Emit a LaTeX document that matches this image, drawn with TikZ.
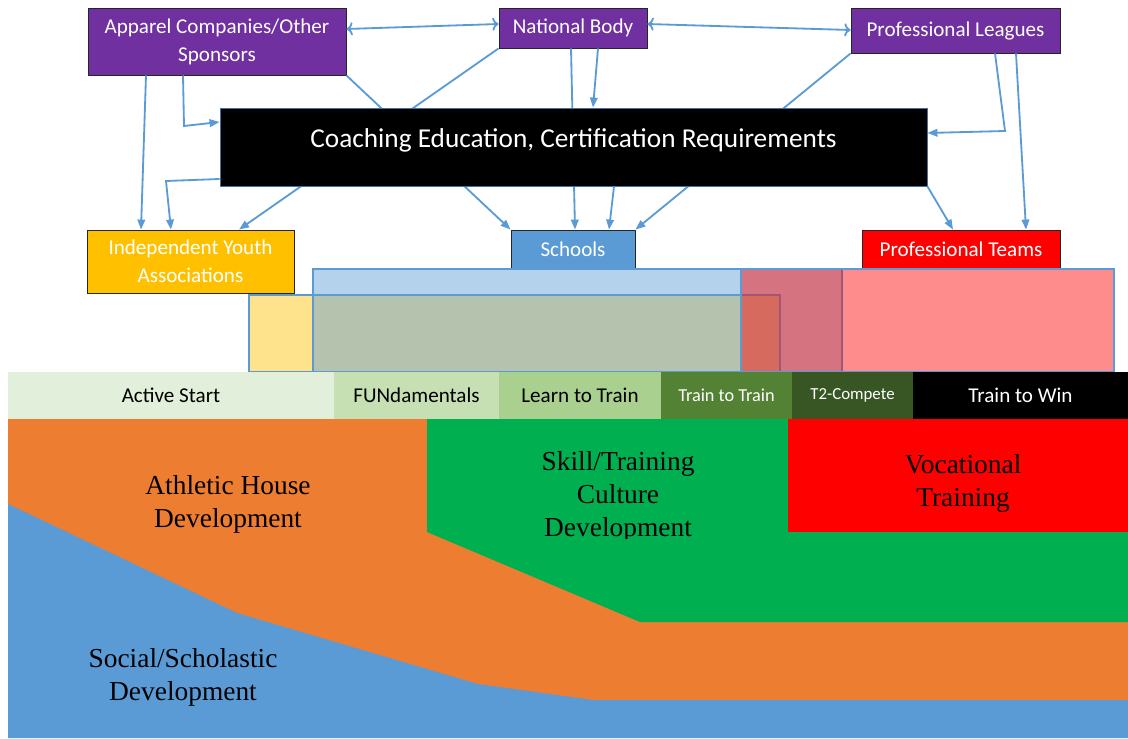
\documentclass[tikz,border=0pt]{standalone}
\usepackage{fontspec}
\setmainfont{Liberation Serif}
\newfontfamily\calibri{Carlito}
\usetikzlibrary{arrows.meta}

\definecolor{orgpurple}{HTML}{7030A0}
\definecolor{linkblue}{HTML}{5B9BD5}
\definecolor{youthgold}{HTML}{FFC000}
\definecolor{edgeblue}{HTML}{41719C}
\definecolor{startgreen}{HTML}{E2EFDA}
\definecolor{fungreen}{HTML}{C6E0B4}
\definecolor{learngreen}{HTML}{A9D08E}
\definecolor{ttgreen}{HTML}{548235}
\definecolor{competegreen}{HTML}{375623}
\definecolor{athleticorange}{HTML}{ED7D31}
\definecolor{skillgreen}{HTML}{00B050}

\begin{document}
\begin{tikzpicture}[
x=0.25mm, y=-0.25mm,
orgbox/.style={rectangle, draw=black!85, line width=0.6pt, text=white, inner sep=0pt, align=center, font=\calibri\fontsize{15}{20}\selectfont},
link/.style={draw=linkblue, line width=1.3pt, -{Triangle[length=2.5mm,width=1.9mm]}},
zone/.style={draw=linkblue, line width=1.2pt, fill opacity=0.45},
stage/.style={rectangle, inner sep=0pt, minimum height=11.75mm, font=\calibri\fontsize{15}{18}\selectfont},
devtext/.style={align=center, font=\fontsize{19.5}{23.5}\selectfont}
]
    \useasboundingbox (0,0) rectangle (1128,738);

    % governing bodies
    \node[orgbox, fill=orgpurple, minimum width=64.5mm, minimum height=16.75mm] (apparel) at (217,41.5) {Apparel Companies/Other\\Sponsors};
    \node[orgbox, fill=orgpurple, minimum width=37mm, minimum height=10mm] (national) at (573,28) {National Body};
    \node[orgbox, fill=orgpurple, minimum width=52.25mm, minimum height=11.25mm] (leagues) at (955.5,30.5) {Professional Leagues};

    % delivery
    \node[orgbox, fill=youthgold, minimum width=51.75mm, minimum height=15.75mm] (youth) at (190.5,261.5) {Independent Youth\\Associations};
    \node[orgbox, fill=linkblue, minimum width=31mm, minimum height=9.75mm] (schools) at (573,249.5) {Schools};
    \node[orgbox, fill=red, minimum width=49.5mm, minimum height=9.75mm] (teams) at (961,249.5) {Professional Teams};

    % these run behind the coaching box
    \draw[link] (apparel.south east) -- (schools.north west);
    \draw[link] (national.south west) -- (youth.north -| 239,0);
    \draw[link] (national.south -| 571,0) -- (schools.north -| 575,0);
    \draw[link] (leagues.south west) -- (schools.north east);

    \node[rectangle, fill=black, draw=edgeblue, line width=0.6pt, inner sep=0pt, minimum width=176.75mm, text height=9.75mm, text depth=9.75mm, text=white, font=\calibri\fontsize{19.4}{22}\selectfont] (coaching) at (573.5,147) {Coaching Education, Certification Requirements};

    \draw[link,<->] (apparel.east |- 0,29) -- (national.west |- 0,24);
    \draw[link,<->] (national.east |- 0,24) -- (leagues.west |- 0,30);
    \draw[link] (apparel.south -| 146,0) -- (youth.north -| 141,0);
    \draw[link] (apparel.south -| 183,0) -- (184,126) -- (coaching.west |- 0,122);
    \draw[link] (coaching.west |- 0,179) -- (166,181) -- (youth.north -| 171,0);
    \draw[link] (national.south -| 598,0) -- (coaching.north -| 593,0);
    \draw[link] (coaching.south -| 614,0) -- (schools.north -| 609,0);
    \draw[link] (leagues.south -| 995,0) -- (1005,131) -- (coaching.east |- 0,133);
    \draw[link] (leagues.south -| 1016,0) -- (teams.north -| 1026,0);
    \draw[link] (coaching.south east) -- (teams.north -| 953,0);

    % overlapping spans
    \draw[zone, fill=youthgold] (249,295) rectangle (780,372);
    \draw[zone, fill=linkblue] (313,269) rectangle (842,372);
    \draw[zone, fill=red] (741,269) rectangle (1114,372);

    % LTAD stages
    \node[stage, fill=startgreen, minimum width=81.5mm] (active) at (171,395.5) {Active Start};
    \node[stage, fill=fungreen, minimum width=41.25mm] (fun) at (416.5,395.5) {FUNdamentals};
    \node[stage, fill=learngreen, minimum width=40.5mm] (learn) at (580,395.5) {Learn to Train};
    \node[stage, fill=ttgreen, minimum width=32.75mm, text=white, font=\calibri\fontsize{13}{16}\selectfont] (traintrain) at (726.5,395.5) {Train to Train};
    \node[stage, fill=competegreen, minimum width=30.25mm, text=white, font=\calibri\fontsize{12}{16}\selectfont] (compete) at (852.5,395.5) {\raisebox{2pt}{T2-Compete}};
    \node[stage, fill=black, minimum width=53.75mm, text=white] (win) at (1020.5,395.5) {Train to Win};

    % development bands
    \fill[athleticorange] (8,419) rectangle (1128,738);
    \fill[linkblue] (8,504) -- (237,613) -- (478,684) -- (593,700) -- (1128,700) -- (1128,738) -- (8,738) -- cycle;
    \fill[skillgreen] (427,419) -- (1128,419) -- (1128,622) -- (640,622) -- (427,532) -- cycle;
    \fill[red] (788,419) rectangle (1128,532);

    \node[devtext] (athletic) at (228,504) {Athletic House\\Development};
    \node[devtext] (social) at (183,677) {Social/Scholastic\\Development};
    \begin{scope}
        \clip (427,419) rectangle (788,538);
        \node[devtext] (skill) at (618,497) {Skill/Training\\Culture\\Development};
    \end{scope}
    \node[devtext] (vocational) at (963,483) {Vocational\\Training};
\end{tikzpicture}
\end{document}
